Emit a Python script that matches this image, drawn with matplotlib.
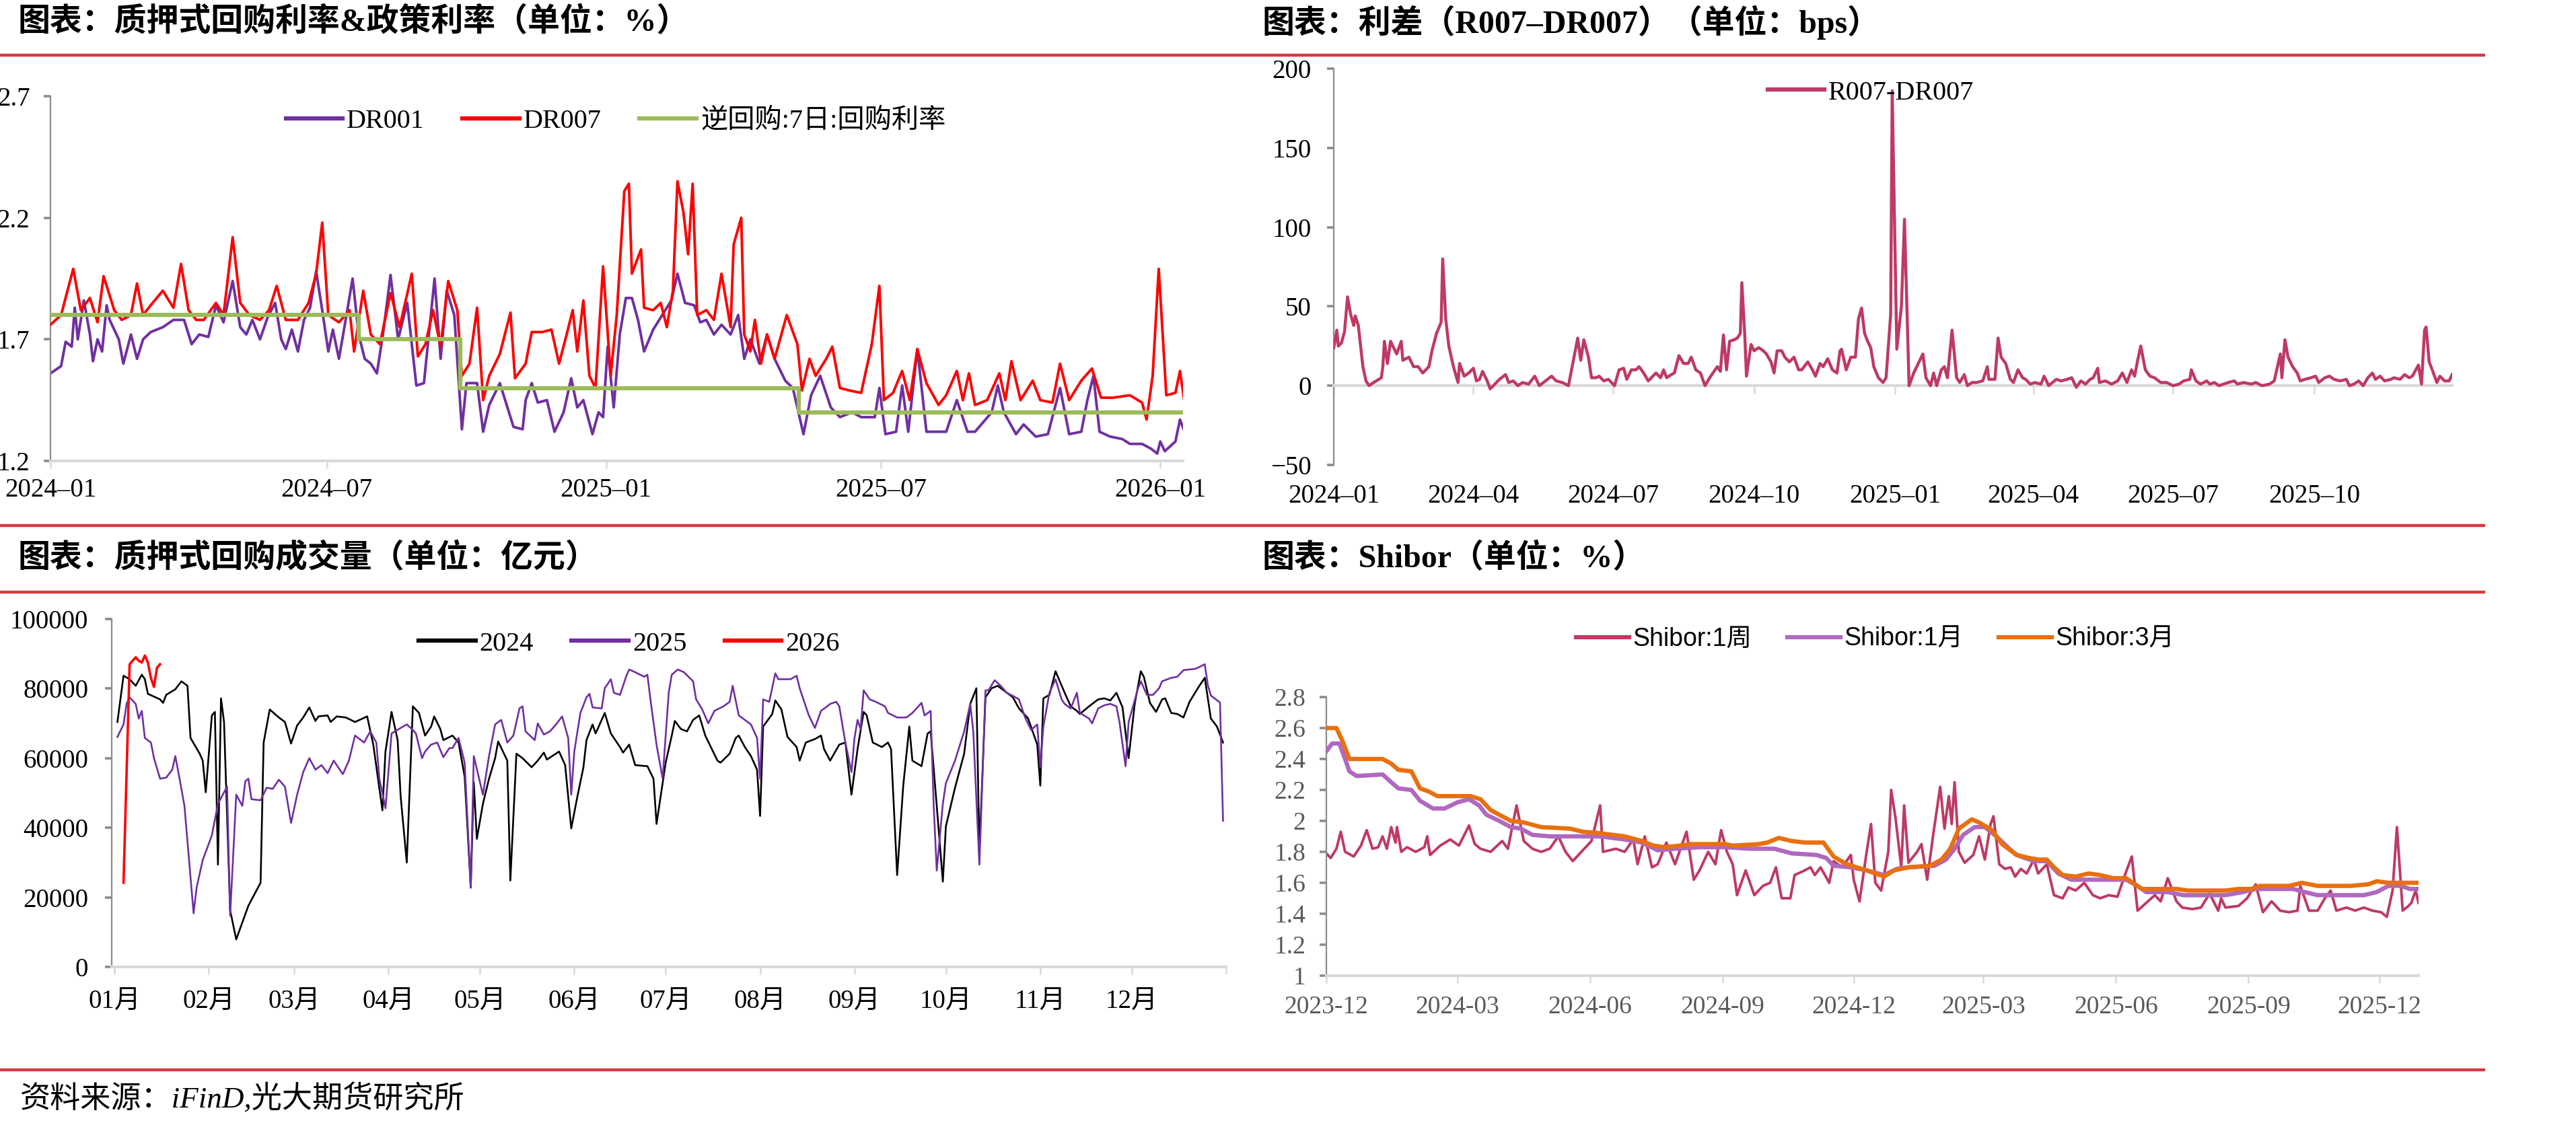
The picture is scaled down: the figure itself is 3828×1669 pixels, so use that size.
import numpy as np
import pandas as pd
import matplotlib
matplotlib.use('Agg')
import matplotlib.pyplot as plt
import matplotlib.dates as mdates
from matplotlib.lines import Line2D

plt.rcParams['font.family'] = ['Liberation Serif', 'Noto Sans CJK SC']
plt.rcParams['axes.unicode_minus'] = True

W, H, DPI = 3828, 1669, 100

# ---------------------------------------------------------------- data
# Panel 1: pledged repo rates (day offset from 2024-01-01, %)
base_rate = '2024-01-01'
dr001 = [(0,1.56),(7,1.59),(10,1.69),(14,1.67),(16,1.83),(18,1.70),(22,1.86),(26,1.72),(28,1.61),(31,1.70),(34,1.65),(37,1.84),(39,1.78),(45,1.70),(48,1.60),(53,1.72),(57,1.62),(61,1.70),(66,1.73),(74,1.75),(81,1.78),(88,1.78),(93,1.68),(98,1.72),(104,1.71),(109,1.84),(114,1.77),(120,1.94),(125,1.75),(129,1.72),(133,1.78),(138,1.70),(143,1.79),(148,1.85),(152,1.70),(155,1.66),(159,1.74),(163,1.65),(167,1.78),(171,1.83),(175,1.98),(179,1.82),(183,1.65),(186,1.74),(190,1.62),(195,1.80),(199,1.95),(203,1.72),(207,1.62),(211,1.60),(215,1.56),(219,1.72),(224,1.965),(229,1.70),(235,1.85),(241,1.51),(246,1.52),(253,1.95),(257,1.62),(261,1.90),(266,1.80),(271,1.33),(274,1.52),(281,1.52),(285,1.32),(289,1.43),(296,1.52),(301,1.42),(305,1.34),(311,1.33),(313,1.45),(317,1.52),(321,1.44),(327,1.45),(332,1.32),(338,1.40),(343,1.54),(347,1.42),(351,1.45),(357,1.31),(361,1.40),(364,1.38),(367,1.67),(371,1.42),(375,1.72),(379,1.87),(383,1.87),(387,1.78),(391,1.65),(397,1.74),(405,1.82),(409,1.86),(413,1.97),(418,1.85),(424,1.84),(428,1.77),(432,1.78),(437,1.72),(442,1.76),(448,1.72),(453,1.80),(457,1.62),(461,1.70),(467,1.60),(472,1.72),(477,1.62),(484,1.53),(489,1.50),(496,1.31),(501,1.47),(507,1.55),(514,1.42),(520,1.38),(528,1.40),(534,1.38),(543,1.38),(546,1.50),(550,1.31),(557,1.32),(561,1.51),(565,1.32),(571,1.66),(577,1.32),(585,1.32),(590,1.32),(597,1.45),(604,1.32),(609,1.32),(620,1.40),(624,1.51),(628,1.40),(636,1.31),(641,1.35),(649,1.30),(657,1.31),(665,1.50),(671,1.31),(679,1.32),(683,1.45),(687,1.55),(691,1.32),(698,1.30),(706,1.29),(711,1.27),(719,1.27),(725,1.25),(729,1.23),(731,1.28),(734,1.24),(741,1.28),(744,1.37),(747,1.32)]
dr007 = [(0,1.76),(7,1.80),(15,1.99),(20,1.82),(26,1.87),(31,1.77),(35,1.96),(42,1.82),(47,1.78),(53,1.80),(57,1.93),(61,1.80),(66,1.84),(74,1.90),(81,1.83),(86,2.01),(91,1.82),(96,1.78),(101,1.78),(109,1.85),(114,1.80),(120,2.12),(125,1.85),(131,1.80),(138,1.78),(144,1.82),(149,1.92),(155,1.78),(163,1.78),(170,1.85),(175,1.97),(179,2.18),(183,1.80),(190,1.77),(197,1.82),(200,1.65),(206,1.90),(211,1.72),(217,1.68),(224,1.89),(230,1.75),(238,1.97),(242,1.63),(247,1.68),(252,1.82),(257,1.67),(262,1.94),(268,1.82),(271,1.55),(276,1.60),(281,1.83),(285,1.45),(289,1.55),(296,1.64),(303,1.81),(306,1.54),(313,1.60),(317,1.73),(324,1.73),(330,1.74),(335,1.60),(340,1.72),(344,1.82),(347,1.65),(351,1.86),(355,1.55),(359,1.50),(364,2.00),(369,1.55),(373,1.80),(378,2.31),(381,2.34),(383,1.97),(389,2.07),(391,1.83),(397,1.82),(402,1.85),(406,1.75),(410,1.90),(413,2.35),(417,2.22),(420,2.05),(423,2.34),(426,1.80),(432,1.82),(437,1.78),(442,1.97),(448,1.75),(450,2.09),(455,2.20),(457,1.72),(461,1.65),(464,1.78),(468,1.60),(472,1.72),(477,1.62),(485,1.80),(492,1.68),(495,1.49),(500,1.62),(504,1.55),(511,1.62),(515,1.67),(520,1.50),(526,1.49),(534,1.48),(541,1.68),(546,1.92),(549,1.45),(555,1.48),(561,1.57),(566,1.45),(571,1.66),(577,1.52),(585,1.43),(590,1.47),(597,1.57),(601,1.45),(605,1.56),(609,1.43),(617,1.45),(625,1.56),(629,1.45),(633,1.61),(639,1.45),(647,1.53),(652,1.45),(660,1.44),(665,1.60),(671,1.45),(679,1.53),(686,1.58),(692,1.46),(700,1.46),(711,1.47),(719,1.44),(722,1.37),(726,1.55),(730,1.99),(735,1.47),(741,1.48),(744,1.57),(747,1.44)]
rr_dates = ['2024-01-01', '2024-07-22', '2024-09-27', '2025-05-08', '2026-01-16']
rr_vals = [1.8, 1.7, 1.5, 1.4, 1.4]
p1_ticks = ['2024-01', '2024-07', '2025-01', '2025-07', '2026-01']

# Panel 2: R007-DR007 spread (day offset from 2024-01-01, bps)
spread = [(0,24),(2,35),(3,25),(5,27),(7,34),(9,56),(11,45),(13,38),(14,44),(16,38),(19,12),(21,3),(23,0),(26,2),(31,5),(32,12),(33,28),(35,14),(37,28),(40,22),(41,20),(44,28),(45,16),(49,18),(52,12),(55,12),(58,8),(62,12),(64,22),(67,33),(70,40),(71,80),(73,42),(75,25),(78,12),(81,2),(82,14),(85,6),(88,8),(91,11),(93,3),(95,4),(97,9),(100,3),(102,-2),(105,1),(108,4),(112,7),(114,2),(117,3),(120,0),(123,2),(127,1),(131,6),(134,0),(138,3),(142,6),(145,3),(149,2),(153,0),(156,15),(159,30),(161,16),(163,29),(166,18),(168,5),(171,5),(173,6),(176,3),(179,4),(183,0),(186,10),(189,11),(191,4),(194,10),(197,10),(199,12),(202,8),(205,3),(208,6),(210,8),(213,5),(215,10),(217,5),(220,7),(222,8),(225,19),(228,14),(231,14),(233,18),(236,10),(239,8),(242,0),(245,5),(250,12),(252,9),(254,32),(256,10),(258,28),(261,29),(263,30),(265,33),(266,65),(268,30),(269,6),(272,26),(274,22),(277,24),(280,22),(282,20),(285,15),(287,8),(289,22),(292,22),(294,18),(297,15),(300,18),(303,10),(305,10),(309,15),(312,10),(314,6),(317,14),(319,12),(322,17),(325,10),(328,8),(330,22),(331,23),(334,10),(337,18),(340,18),(342,42),(344,49),(346,33),(348,28),(350,24),(352,12),(355,5),(358,2),(360,5),(363,45),(364,186),(367,23),(370,50),(372,105),(375,0),(378,8),(382,16),(384,20),(386,5),(389,0),(391,8),(393,0),(396,10),(398,12),(400,5),(402,25),(403,35),(406,5),(408,2),(411,7),(413,0),(416,2),(419,2),(423,3),(426,12),(427,4),(431,4),(433,30),(435,18),(438,14),(441,4),(443,2),(446,10),(449,5),(451,4),(454,1),(457,2),(461,1),(463,6),(466,0),(471,4),(474,3),(478,4),(481,5),(484,-1),(487,3),(490,1),(493,4),(495,5),(498,11),(499,2),(503,3),(507,1),(511,3),(514,8),(517,2),(520,10),(522,6),(524,16),(526,25),(529,10),(532,6),(535,5),(539,2),(543,2),(547,0),(551,1),(554,3),(558,4),(559,10),(562,3),(565,1),(569,3),(571,1),(574,2),(577,0),(580,1),(583,2),(587,3),(589,1),(593,2),(598,1),(601,2),(605,0),(610,1),(613,3),(617,20),(618,5),(620,29),(622,18),(625,12),(628,8),(630,3),(633,4),(637,5),(640,6),(642,2),(646,5),(649,6),(652,4),(656,3),(660,4),(662,0),(665,1),(668,3),(671,0),(674,5),(677,8),(679,4),(682,6),(685,3),(689,4),(691,5),(695,4),(698,7),(701,5),(703,6),(707,13),(709,1),(711,35),(712,37),(714,15),(716,10),(719,2),(721,6),(724,3),(727,3),(729,7)]
p2_ticks = ['2024-01', '2024-04', '2024-07', '2024-10', '2025-01', '2025-04', '2025-07', '2025-10']

# Panel 3: pledged repo volume (day of year, 100 million yuan)
vol_2024 = [(2,70400),(4,83700),(6,82700),(8,80800),(10,84000),(11,82700),(12,78500),(16,76900),(17,75900),(18,78200),(21,79800),(23,82100),(25,80800),(26,65800),(29,61300),(30,59300),(31,50200),(33,72300),(34,73300),(35,29400),(36,77200),(37,70400),(39,16300),(41,7900),(45,17600),(49,24200),(50,64500),(52,74000),(55,71700),(57,70400),(59,64200),(61,69400),(63,71700),(65,74600),(67,70700),(68,72000),(71,72300),(72,70400),(74,72000),(77,71700),(80,70400),(84,72000),(86,63900),(89,45000),(90,61900),(92,73300),(94,65200),(95,48900),(97,30000),(99,74900),(101,73000),(103,66500),(105,69100),(106,72000),(108,68400),(109,65200),(112,66500),(114,64500),(116,54700),(118,22800),(119,53100),(120,36800),(122,46900),(124,54100),(126,60000),(127,64800),(130,59300),(131,24800),(133,61300),(135,60000),(138,57400),(140,59300),(142,61600),(143,59600),(147,61900),(149,58000),(151,39800),(153,48900),(155,57400),(156,65200),(158,69700),(159,67100),(162,73000),(164,67100),(167,63200),(168,61600),(170,63900),(172,58000),(176,57700),(178,54100),(179,41100),(182,58700),(184,66500),(185,70700),(187,68400),(189,67700),(191,71000),(193,72300),(195,66500),(199,59300),(200,58700),(203,61300),(205,65800),(206,66500),(208,63200),(210,60600),(212,56700),(213,43400),(214,69100),(217,72700),(218,76600),(220,74000),(222,66100),(225,63200),(226,59300),(228,64500),(231,65500),(233,66500),(234,62600),(236,59300),(239,63900),(241,64500),(243,49500),(245,62600),(247,73300),(248,72300),(250,64500),(253,63200),(255,64500),(256,62600),(258,26400),(260,52100),(262,69100),(263,59300),(266,57700),(268,67100),(269,67700),(271,46300),(273,24500),(274,40400),(277,51500),(280,61300),(282,75600),(284,80100),(285,33300),(287,77500),(289,80100),(291,80800),(293,79500),(296,77500),(298,74300),(301,71400),(304,63900),(305,52100),(306,77200),(308,78200),(310,85000),(313,78800),(315,74900),(317,73600),(318,72700),(321,74900),(324,76900),(326,77200),(328,76600),(330,78800),(332,74600),(334,60000),(336,75600),(338,85000),(339,83400),(341,75900),(343,73300),(345,76900),(346,77200),(348,73000),(350,72700),(352,71700),(354,76200),(357,80500),(359,83100),(361,71400),(363,69100),(365,64500)]
vol_2025 = [(2,66100),(4,69700),(5,75600),(6,77500),(8,75600),(9,71400),(10,73600),(11,65800),(13,64500),(14,60000),(16,54100),(18,54400),(20,56700),(21,60600),(22,56000),(24,46300),(27,15400),(28,22800),(30,30700),(33,37800),(35,46900),(38,51800),(39,14700),(41,49500),(43,46300),(44,53400),(45,54100),(46,48200),(49,47900),(51,51500),(53,51200),(55,53800),(57,51800),(59,41400),(61,49500),(63,56000),(65,60000),(67,56700),(69,58000),(71,55700),(73,59300),(76,55400),(78,59300),(80,66500),(83,64500),(85,67700),(87,64500),(88,54100),(90,45600),(92,67100),(95,68700),(97,69700),(99,68100),(100,67100),(102,60000),(103,61900),(105,63900),(107,64500),(109,60300),(111,62900),(112,62900),(114,65800),(116,58700),(118,22800),(119,60600),(122,49500),(124,60600),(126,69700),(128,71000),(130,64500),(132,66500),(134,74300),(135,74900),(136,67700),(139,65200),(140,70000),(142,66800),(144,67700),(146,69700),(148,72000),(150,65800),(151,49500),(152,61900),(154,73000),(156,77500),(157,78500),(158,74600),(161,74300),(162,80100),(164,82700),(165,78800),(167,78200),(169,83400),(170,85500),(172,84700),(175,83400),(176,84000),(177,76900),(179,63900),(181,54100),(183,78800),(184,84000),(186,85500),(188,84700),(191,82100),(192,76900),(194,74000),(196,70000),(198,73600),(201,74900),(203,76200),(204,80800),(206,72300),(208,71000),(210,69700),(212,65800),(213,54100),(214,76900),(216,76200),(218,84400),(219,82700),(221,82700),(223,82700),(225,83700),(226,80100),(229,72300),(231,68700),(233,73600),(235,74900),(236,75600),(238,76200),(239,74900),(241,64500),(243,56000),(244,65800),(245,71000),(246,68400),(247,79500),(249,76900),(251,76200),(254,74900),(255,73000),(258,71700),(261,71700),(263,73000),(266,75900),(267,72300),(269,73600),(270,46300),(271,27700),(273,46900),(274,52800),(277,59300),(280,67700),(282,75600),(283,67700),(285,29400),(287,79500),(288,79500),(290,82400),(292,80800),(294,78800),(296,77900),(298,76900),(300,71700),(302,68100),(304,69700),(305,57400),(306,69100),(308,78800),(310,82700),(312,76900),(313,75600),(315,74300),(317,78800),(318,73000),(321,71400),(322,70000),(324,74300),(326,75200),(328,75600),(330,74900),(331,70400),(333,57700),(334,70400),(337,79800),(338,82100),(340,78200),(342,78200),(344,80100),(345,82100),(348,83100),(350,83400),(352,85300),(356,85700),(359,87000),(360,81000),(361,78000),(364,76000),(365,42000)]
vol_2026 = [(4,24200),(6,87000),(8,89000),(9,88000),(10,87500),(11,89500),(12,87500),(13,83000),(14,80500),(15,86000),(16,87000)]
month_labels = ['01月', '02月', '03月', '04月', '05月', '06月', '07月', '08月', '09月', '10月', '11月', '12月']
month_start_doy = [1, 32, 60, 91, 121, 152, 182, 213, 244, 274, 305, 335, 366]

# Panel 4: Shibor (day offset from 2023-12-01, %)
base_shibor = '2023-12-01'
shibor_1w = [(0,1.79),(3,1.76),(7,1.82),(10,1.93),(13,1.80),(19,1.77),(24,1.84),(28,1.94),(32,1.82),(36,1.83),(39,1.90),(42,1.82),(45,1.96),(48,1.86),(49,1.96),(52,1.80),(56,1.83),(62,1.80),(68,1.83),(70,1.90),(72,1.78),(79,1.84),(86,1.88),(92,1.84),(99,1.97),(103,1.85),(107,1.82),(114,1.80),(122,1.87),(126,1.82),(132,2.10),(137,1.87),(143,1.82),(149,1.80),(155,1.82),(161,1.90),(166,1.80),(171,1.74),(177,1.80),(184,1.87),(190,2.10),(192,1.80),(201,1.82),(207,1.80),(213,1.88),(216,1.72),(221,1.90),(226,1.70),(230,1.72),(236,1.86),(242,1.72),(245,1.80),(250,1.93),(255,1.62),(259,1.68),(265,1.80),(270,1.72),(274,1.94),(278,1.80),(282,1.72),(285,1.52),(291,1.68),(297,1.52),(303,1.58),(308,1.60),(312,1.70),(316,1.50),(322,1.50),(325,1.65),(332,1.68),(336,1.70),(339,1.65),(343,1.70),(349,1.60),(352,1.74),(358,1.70),(364,1.78),(366,1.62),(370,1.48),(375,1.80),(378,1.98),(381,1.60),(385,1.55),(390,1.80),(392,2.20),(395,2.02),(399,1.70),(401,2.10),(404,1.73),(410,1.80),(413,1.85),(417,1.62),(421,1.90),(426,2.22),(429,1.95),(432,2.16),(434,1.98),(436,2.25),(439,1.80),(443,1.73),(449,1.78),(453,1.90),(457,1.75),(461,1.98),(463,2.03),(467,1.72),(471,1.69),(475,1.70),(478,1.64),(482,1.69),(486,1.66),(491,1.75),(494,1.66),(500,1.72),(505,1.52),(511,1.50),(515,1.57),(520,1.55),(526,1.60),(532,1.52),(537,1.50),(543,1.52),(549,1.51),(555,1.67),(559,1.77),(563,1.42),(569,1.47),(575,1.52),(579,1.48),(584,1.63),(590,1.48),(594,1.44),(601,1.43),(607,1.44),(613,1.53),(619,1.42),(621,1.50),(624,1.44),(633,1.45),(639,1.50),(645,1.59),(650,1.41),(656,1.48),(662,1.42),(668,1.41),(674,1.42),(676,1.58),(682,1.42),(688,1.42),(693,1.50),(697,1.55),(701,1.42),(708,1.44),(714,1.42),(720,1.44),(726,1.42),(732,1.41),(736,1.38),(740,1.55),(743,1.96),(747,1.42),(751,1.45),(753,1.47),(756,1.55),(758,1.47)]
shibor_1m = [(0,2.45),(4,2.50),(9,2.50),(13,2.40),(16,2.32),(21,2.29),(39,2.30),(45,2.25),(50,2.21),(59,2.20),(65,2.13),(74,2.08),(82,2.08),(91,2.12),(99,2.14),(106,2.10),(111,2.04),(120,2.00),(128,1.96),(135,1.95),(143,1.91),(155,1.90),(190,1.90),(207,1.88),(219,1.86),(230,1.81),(242,1.82),(259,1.83),(277,1.83),(294,1.82),(311,1.82),(323,1.79),(340,1.78),(347,1.76),(352,1.71),(364,1.70),(375,1.68),(387,1.65),(396,1.69),(404,1.70),(422,1.71),(430,1.75),(436,1.82),(442,1.91),(450,1.96),(457,1.96),(465,1.90),(474,1.82),(479,1.78),(491,1.74),(500,1.74),(508,1.66),(517,1.62),(529,1.62),(555,1.62),(563,1.58),(569,1.54),(584,1.54),(595,1.52),(624,1.52),(636,1.54),(645,1.56),(671,1.56),(679,1.54),(688,1.52),(720,1.52),(729,1.54),(737,1.58),(746,1.58),(752,1.56),(758,1.56)]
shibor_3m = [(0,2.60),(7,2.60),(11,2.52),(16,2.40),(39,2.40),(45,2.37),(50,2.33),(59,2.32),(65,2.21),(71,2.19),(77,2.16),(100,2.16),(107,2.14),(114,2.07),(120,2.04),(128,2.00),(137,1.99),(149,1.96),(169,1.95),(178,1.93),(190,1.92),(207,1.90),(219,1.87),(227,1.84),(235,1.83),(245,1.84),(253,1.85),(277,1.85),(282,1.84),(300,1.85),(306,1.86),(314,1.89),(323,1.87),(332,1.86),(345,1.86),(352,1.77),(361,1.72),(375,1.68),(387,1.64),(394,1.68),(404,1.70),(419,1.71),(427,1.75),(433,1.82),(439,1.95),(448,2.01),(453,1.99),(462,1.94),(469,1.85),(479,1.78),(488,1.76),(494,1.75),(500,1.75),(505,1.70),(511,1.65),(520,1.64),(529,1.66),(537,1.65),(546,1.63),(555,1.63),(566,1.56),(578,1.56),(590,1.56),(598,1.55),(624,1.55),(633,1.56),(642,1.56),(648,1.58),(668,1.58),(677,1.60),(688,1.58),(711,1.58),(723,1.59),(729,1.61),(737,1.60),(749,1.60),(758,1.60)]
p4_ticks = ['2023-12', '2024-03', '2024-06', '2024-09', '2024-12', '2025-03', '2025-06', '2025-09', '2025-12']

titles = ['图表：质押式回购利率&政策利率（单位：%）', '图表：利差（R007–DR007）（单位：bps）',
          '图表：质押式回购成交量（单位：亿元）', '图表：Shibor（单位：%）']
source = '资料来源：iFinD,光大期货研究所'

# ---------------------------------------------------------------- helpers
def unzip(pairs):
    a = np.array(pairs, dtype=float)
    return a[:, 0], a[:, 1]

def dnum(base, days):
    return mdates.date2num(pd.Timestamp(base)) + np.asarray(days, dtype=float)

def month_num(labels):
    return [mdates.date2num(pd.Timestamp(s + '-01')) for s in labels]

fig = plt.figure(figsize=(W / DPI, H / DPI), dpi=DPI)
fig.patch.set_facecolor('white')

def px_axes(l, t, r, b):
    return fig.add_axes([l / W, 1 - b / H, (r - l) / W, (b - t) / H])

GRAY_AX = '#8C8C8C'
GRAY_X = '#D9D9D9'
RED_SEP = '#D8383F'

def style_axes(ax, xpad, ypad, labelcolor='black', fs=28):
    ax.patch.set_visible(False)
    for s in ('top', 'right'):
        ax.spines[s].set_visible(False)
    ax.spines['left'].set_color(GRAY_AX)
    ax.spines['left'].set_linewidth(1.6)
    ax.spines['bottom'].set_color(GRAY_X)
    ax.spines['bottom'].set_linewidth(3.0)
    ax.tick_params(axis='y', direction='out', length=7, width=2.6, color=GRAY_AX,
                   labelsize=fs, pad=ypad, labelcolor=labelcolor)
    ax.tick_params(axis='x', direction='out', length=8, width=1.8, color=GRAY_X,
                   labelsize=fs, pad=xpad, labelcolor=labelcolor)

def legend_at(ax, handles, labels, cx, cy, fs=29, prop=None):
    kw = dict(prop=prop) if prop else dict(fontsize=fs)
    ax.legend(handles, labels, loc='center', bbox_to_anchor=(cx / W, 1 - cy / H),
              bbox_transform=fig.transFigure, ncol=len(handles), frameon=False,
              handlelength=2.1, handletextpad=0.15, columnspacing=1.4,
              borderpad=0, borderaxespad=0, **kw)

def hline(y, x0=0, x1=3693):
    fig.add_artist(Line2D([x0 / W, x1 / W], [1 - y / H, 1 - y / H], transform=fig.transFigure,
                          color=RED_SEP, lw=3.2, solid_capstyle='butt'))

# separators and texts
for yy in (82, 781, 880, 1590):
    hline(yy)
for (tx, ty), t in zip([(27, 33), (1876, 33), (27, 830), (1876, 830)], titles):
    fig.text(tx / W, 1 - ty / H, t, fontsize=34.5, fontweight='bold', va='center', ha='left')
fig.text(30 / W, 1 - 1633 / H, source, fontsize=32.5, style='italic', va='center', ha='left')

# ---------------------------------------------------------------- panel 1
ax1 = px_axes(75, 143, 1758, 685)
style_axes(ax1, xpad=10, ypad=15)
x, y = unzip(dr001)
ax1.plot(dnum(base_rate, x), y, color='#7030A0', lw=2.8, zorder=2)
x, y = unzip(dr007)
ax1.plot(dnum(base_rate, x), y, color='#FF0000', lw=2.8, zorder=3)
ax1.plot(mdates.date2num(pd.to_datetime(rr_dates)), rr_vals, color='#9BBB59', lw=4.5,
         drawstyle='steps-post', zorder=4)
ax1.set_xlim(dnum(base_rate, 0), dnum(base_rate, 746))
ax1.set_ylim(1.2, 2.7)
ax1.set_yticks([1.2, 1.7, 2.2, 2.7], ['1.2', '1.7', '2.2', '2.7'])
ax1.set_xticks(month_num(p1_ticks), [s.replace('-', '–') for s in p1_ticks])
legend_at(ax1, [Line2D([], [], color=c, lw=4.5) for c in ('#7030A0', '#FF0000', '#9BBB59')],
          ['DR001', 'DR007', '逆回购:7日:回购利率'], 915, 180)

# ---------------------------------------------------------------- panel 2
ax2 = px_axes(1982, 102, 3644, 691)
style_axes(ax2, xpad=0, ypad=17)
ax2.spines['bottom'].set_position(('data', 0))
x, y = unzip(spread)
ax2.plot(dnum(base_rate, x), y, color='#BE3A63', lw=3.2, zorder=3)
ax2.set_xlim(dnum(base_rate, 0), dnum(base_rate, 729))
ax2.set_ylim(-50, 200)
ax2.set_yticks([-50, 0, 50, 100, 150, 200])
ax2.set_xticks(month_num(p2_ticks))
ax2.tick_params(axis='x', labelbottom=False, length=9)
sec = ax2.secondary_xaxis('bottom')
sec.set_xticks(month_num(p2_ticks), [s.replace('-', '–') for s in p2_ticks])
sec.tick_params(length=0, pad=20, labelsize=28)
sec.spines['bottom'].set_visible(False)
legend_at(ax2, [Line2D([], [], color='#BE3A63', lw=4.5)], ['R007-DR007'], 2780, 138)

# ---------------------------------------------------------------- panel 3
ax3 = px_axes(166, 920, 1822, 1437)
style_axes(ax3, xpad=16, ypad=18)
for data, c, lw, z in ((vol_2024, 'black', 1.9, 2), (vol_2025, '#7030A0', 1.9, 3), (vol_2026, '#FF0000', 2.6, 4)):
    x, y = unzip(data)
    ax3.plot(x, y, color=c, lw=lw, zorder=z)
ax3.set_xlim(0.12, 366)
ax3.set_ylim(0, 100000)
ax3.set_yticks(range(0, 100001, 20000))
ax3.set_xticks(month_start_doy, month_labels + [''])
legend_at(ax3, [Line2D([], [], color=c, lw=4.5) for c in ('black', '#7030A0', '#FF0000')],
          ['2024', '2025', '2026'], 935, 957)

# ---------------------------------------------------------------- panel 4
ax4 = px_axes(1971, 1036, 3594, 1450)
style_axes(ax4, xpad=13, ypad=15, labelcolor='#595959', fs=27)
for data, c, lw, z in ((shibor_1w, '#BE3A63', 2.8, 2), (shibor_1m, '#B068C0', 4.6, 3), (shibor_3m, '#E8700F', 4.6, 4)):
    x, y = unzip(data)
    ax4.plot(dnum(base_shibor, x), y, color=c, lw=lw, zorder=z)
ax4.set_xlim(dnum(base_shibor, 0), dnum(base_shibor, 758))
ax4.set_ylim(1.0, 2.8)
yt = np.round(np.arange(1.0, 2.81, 0.2), 1)
ax4.set_yticks(yt, ['%g' % v for v in yt])
ax4.set_xticks(month_num(p4_ticks), p4_ticks)
legend_at(ax4, [Line2D([], [], color=c, lw=4.5) for c in ('#BE3A63', '#B068C0', '#E8700F')],
          ['Shibor:1周', 'Shibor:1月', 'Shibor:3月'], 2787, 950,
          prop={'family': ['Liberation Sans', 'Noto Sans CJK SC'], 'size': 27})

fig.savefig('out.png', dpi=DPI, facecolor='white')
